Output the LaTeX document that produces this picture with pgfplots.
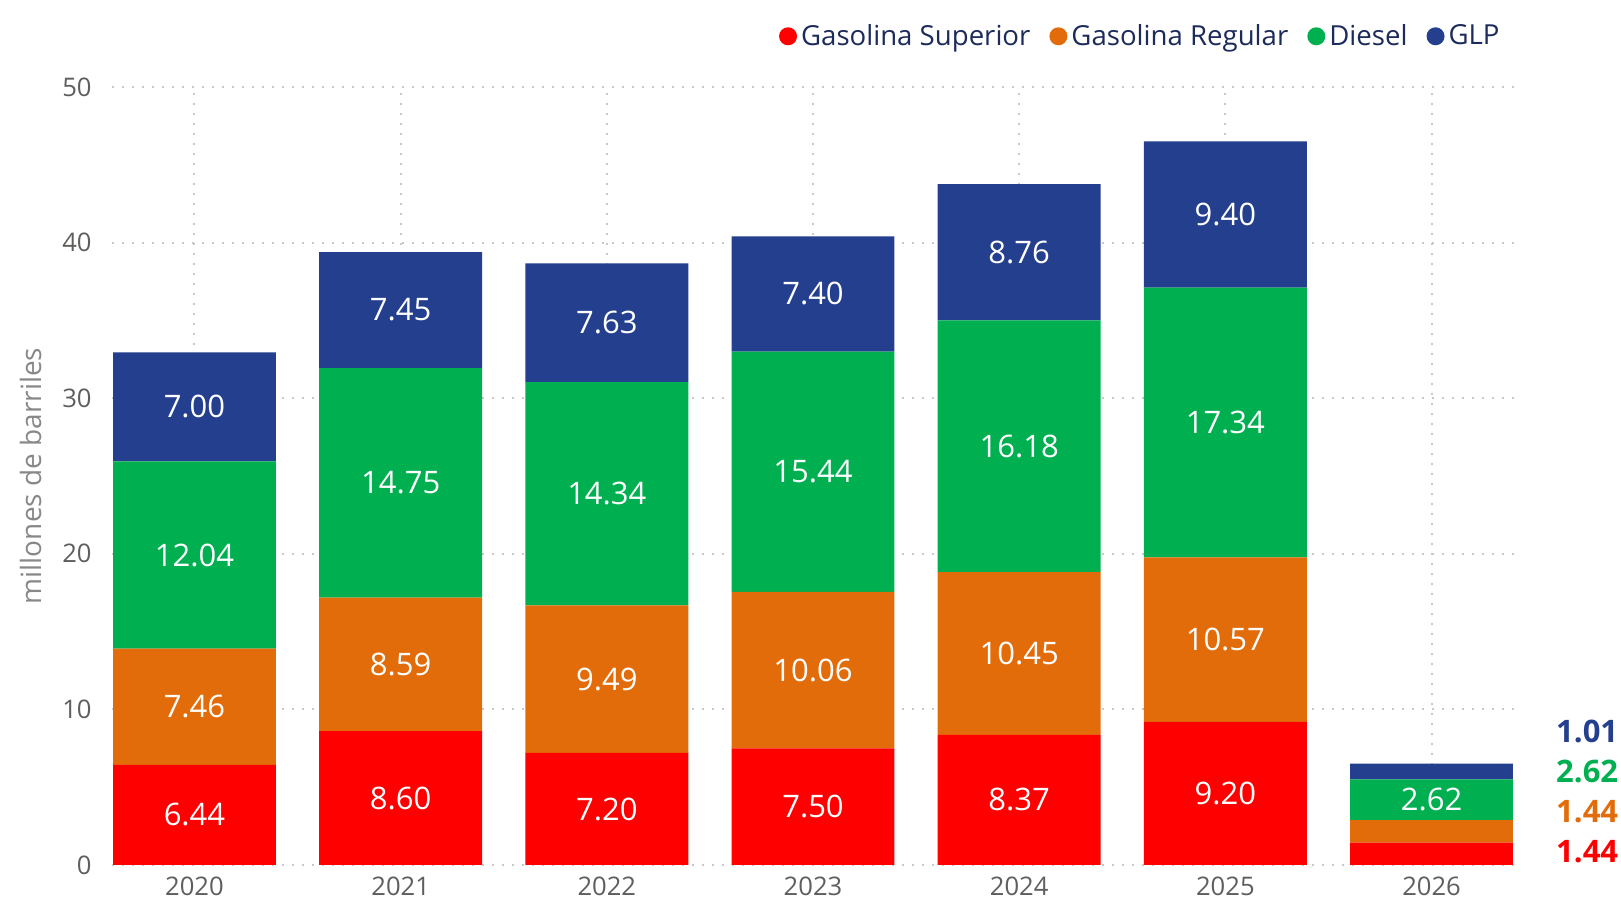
\documentclass[border=0pt]{standalone}
\usepackage{fontspec}
\setmainfont{Open Sans}
\usepackage{pgfplots}
\usepackage{pgfplotstable}
\pgfplotsset{compat=1.18}
\definecolor{cSup}{HTML}{FF0000}
\definecolor{cReg}{HTML}{E36C0A}
\definecolor{cDsl}{HTML}{00B050}
\definecolor{cGlp}{HTML}{243F8E}
\definecolor{ctick}{HTML}{605E5C}
\definecolor{clab}{HTML}{8A8886}
\definecolor{cleg}{HTML}{1C2B5A}
\definecolor{cgrid}{HTML}{C8C8C8}

\pgfplotstableread{
x sup reg dsl glp lsup lreg ldsl lglp
0 6.44 7.46 12.04 7.00 6.44 7.46 12.04 7.00
1 8.60 8.59 14.75 7.45 8.60 8.59 14.75 7.45
2 7.20 9.49 14.34 7.63 7.20 9.49 14.34 7.63
3 7.50 10.06 15.44 7.40 7.50 10.06 15.44 7.40
4 8.37 10.45 16.18 8.76 8.37 10.45 16.18 8.76
5 9.20 10.57 17.34 9.40 9.20 10.57 17.34 9.40
6 1.44 1.44 2.62 1.01 {} {} 2.62 {}
}\data

\pgfplotsset{
  dotleg/.style={legend image code/.code={\fill[##1,draw=none] (0pt,0pt) circle (4.5pt);}},
}

\begin{document}
\begin{tikzpicture}
\useasboundingbox (0,0) rectangle (810.5pt,449pt);
\begin{axis}[
  at={(56pt,16.5pt)}, anchor=south west,
  scale only axis, width=701pt, height=389pt,
  ybar stacked, bar width=0.79,
  xmin=-0.4, xmax=6.4, ymin=0, ymax=50,
  xtick={0,1,2,3,4,5,6},
  xticklabels={2020,2021,2022,2023,2024,2025,2026},
  ytick={0,10,20,30,40,50},
  axis line style={draw=none},
  major tick length=0pt,
  grid=major,
  major grid style={cgrid, line width=1pt, dash pattern=on 1pt off 4pt},
  tick label style={ctick, font=\fontsize{12.8}{14}\selectfont},
  yticklabel style={inner sep=0pt, anchor=east, xshift=-10pt},
  xticklabel style={inner sep=0pt, anchor=north, yshift=-6pt},
  /pgf/number format/assume math mode=true,
  ylabel={millones de barriles},
  every axis y label/.style={at={(axis description cs:-0.0578,0.5)}, rotate=90, anchor=center, clab, font=\fontsize{14}{16}\selectfont},
  clip=false,
  point meta=explicit symbolic,
  nodes near coords,
  every node near coord/.append style={white, font=\fontsize{15.5}{18}\selectfont, anchor=center},
  legend columns=4,
  legend style={draw=none, fill=none, at={(axis description cs:1,1)}, anchor=east, xshift=-5pt, yshift=25.35pt,
    font=\fontsize{13.8}{16}\selectfont, text=cleg, inner sep=0pt,
    /tikz/every even column/.append style={column sep=7.5pt}},
]
\addplot[fill=cSup, draw=none, dotleg] table[x=x, y=sup, meta=lsup] \data;
\addplot[fill=cReg, draw=none, dotleg] table[x=x, y=reg, meta=lreg] \data;
\addplot[fill=cDsl, draw=none, dotleg] table[x=x, y=dsl, meta=ldsl] \data;
\addplot[fill=cGlp, draw=none, dotleg] table[x=x, y=glp, meta=lglp] \data;
\legend{Gasolina Superior, Gasolina Regular, Diesel, GLP}
\node[cGlp, font=\bfseries\fontsize{15.5}{18}\selectfont] at (axis cs:6.755,8.55) {1.01};
\node[cDsl, font=\bfseries\fontsize{15.5}{18}\selectfont] at (axis cs:6.755,5.98) {2.62};
\node[cReg, font=\bfseries\fontsize{15.5}{18}\selectfont] at (axis cs:6.755,3.40) {1.44};
\node[cSup, font=\bfseries\fontsize{15.5}{18}\selectfont] at (axis cs:6.755,0.84) {1.44};
\end{axis}
\end{tikzpicture}
\end{document}
